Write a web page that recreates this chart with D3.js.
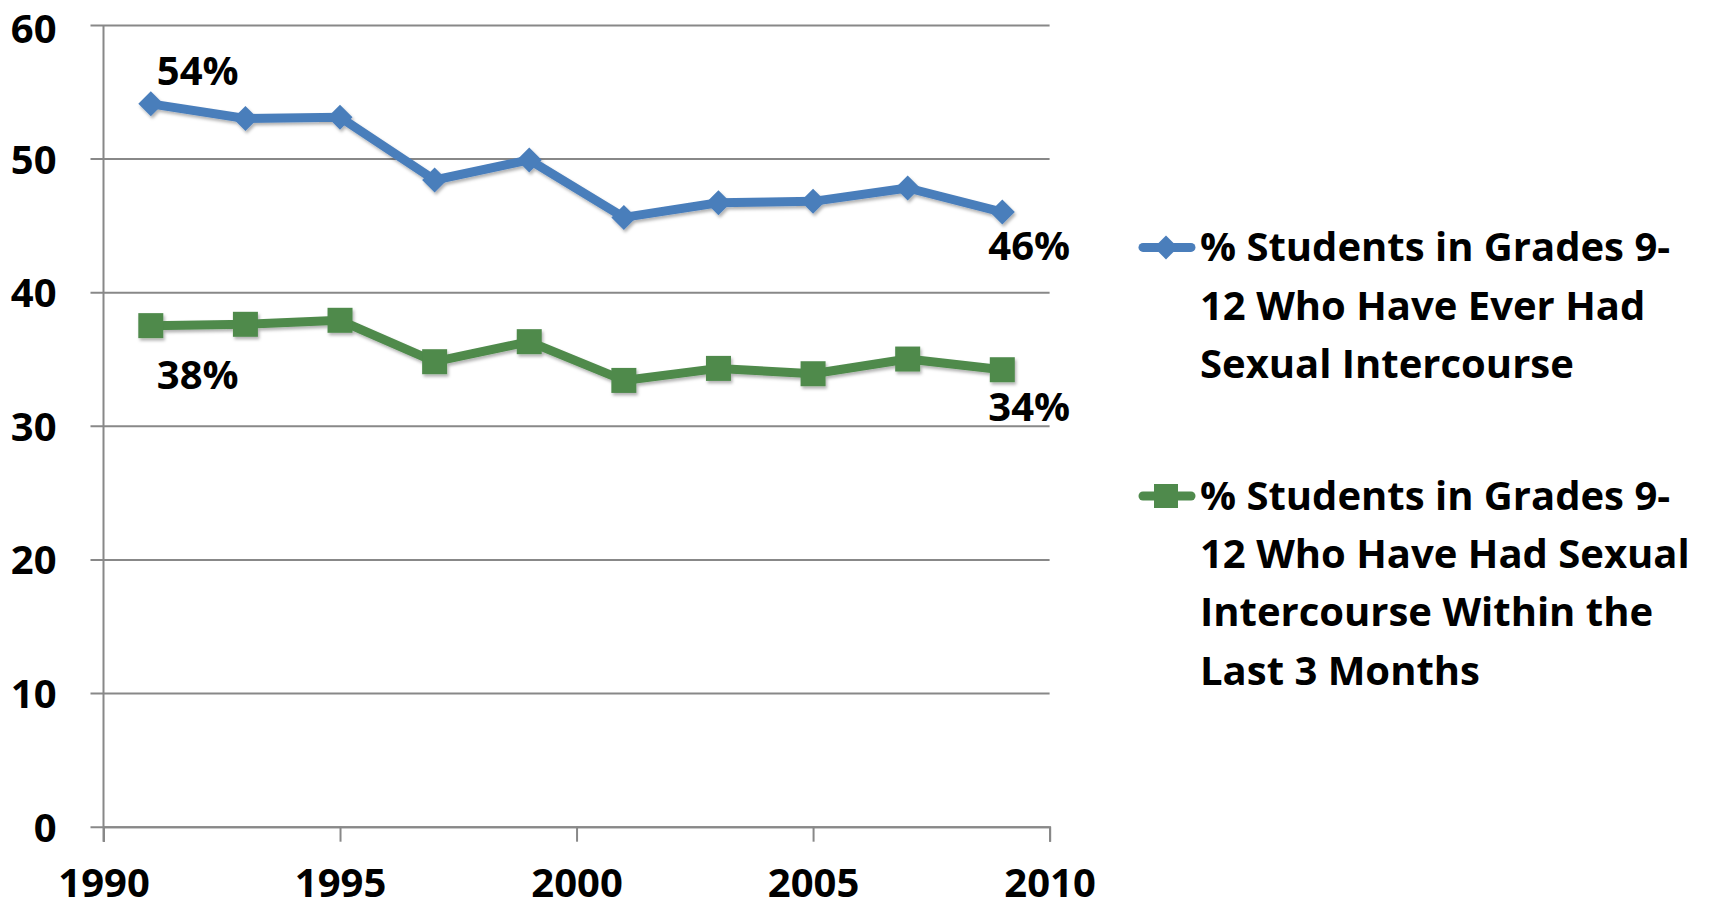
<!DOCTYPE html>
<html>
<head>
<meta charset="utf-8">
<script src="https://cdn.jsdelivr.net/npm/d3@7"></script>
<style>
  body { margin: 0; background: #fff; }
  svg text { font-family: "Open Sans", Lato, sans-serif; font-weight: bold; fill: #000; }
</style>
</head>
<body>
<div id="chart"></div>
<script>
// data
const years = [1991, 1993, 1995, 1997, 1999, 2001, 2003, 2005, 2007, 2009];
const everHad = [54.1, 53.0, 53.1, 48.4, 49.9, 45.6, 46.7, 46.8, 47.8, 46.0];
const last3Months = [37.5, 37.6, 37.9, 34.8, 36.3, 33.4, 34.3, 33.9, 35.0, 34.2];
const xTicks = [1990, 1995, 2000, 2005, 2010];
const yTicks = [0, 10, 20, 30, 40, 50, 60];
const everHadLegend = ["% Students in Grades 9-", "12 Who Have Ever Had", "Sexual Intercourse"];
const last3Legend = ["% Students in Grades 9-", "12 Who Have Had Sexual", "Intercourse Within the", "Last 3 Months"];
const everHadEnds = ["54%", "46%"];
const last3Ends = ["38%", "34%"];

const W = 1709, H = 908;
const margin = {top: 25, left: 103.5, right: W - 1049.6, bottom: H - 826.7};
const width = W - margin.left - margin.right,
      height = H - margin.top - margin.bottom;
const GRID = "#888888";
const FONT = 40;

const svg = d3.select("#chart").append("svg")
    .attr("width", W)
    .attr("height", H);

// soft shadow like the office chart
const defs = svg.append("defs");
defs.append("filter").attr("id", "shadow")
    .attr("x", "-20%").attr("y", "-20%").attr("width", "140%").attr("height", "160%")
  .append("feDropShadow")
    .attr("dx", 1.5).attr("dy", 2.5).attr("stdDeviation", 1.5)
    .attr("flood-color", "#000").attr("flood-opacity", 0.3);

const g = svg.append("g")
    .attr("transform", "translate(" + margin.left + "," + margin.top + ")");

const x = d3.scaleLinear().domain([1990, 2010]).range([0, width]);
const y = d3.scaleLinear().domain([0, 60]).range([height, 0]);

// y axis with gridlines (drawn from the right edge so ticks poke out on the left)
const axisY = g.append("g")
    .attr("transform", "translate(" + width + ",0)")
    .call(d3.axisLeft(y).tickValues(yTicks).tickSize(width + 13).tickPadding(34));
axisY.select(".domain").remove();
axisY.selectAll("line").style("stroke", GRID).style("stroke-width", 2);
axisY.selectAll("text")
    .style("font-size", FONT + "px")
    .attr("dy", d => d === 60 ? "0.44em" : "0.36em"); // keep the top label inside the page

// x axis
const axisX = g.append("g")
    .attr("transform", "translate(0," + height + ")")
    .call(d3.axisBottom(x).tickValues(xTicks).tickSize(15).tickFormat(d3.format("d")));
axisX.select(".domain").style("stroke", GRID).style("stroke-width", 2);
axisX.selectAll("line").style("stroke", GRID).style("stroke-width", 2);
axisX.selectAll("text")
    .style("font-size", FONT + "px")
    .attr("y", 70)
    .attr("dy", null);

// vertical axis line
g.append("line")
    .attr("x1", 0).attr("x2", 0)
    .attr("y1", 0).attr("y2", height + 15)
    .style("stroke", GRID).style("stroke-width", 2);

const series = [
  {values: everHad, color: "#4a7ebb", kind: "diamond", size: 25, ends: everHadEnds,
   endOffsets: [[6, -19], [-14, 48]], legend: everHadLegend},
  {values: last3Months, color: "#4f8a4c", kind: "square", size: 25, ends: last3Ends,
   endOffsets: [[6, 63], [-14, 51]], legend: last3Legend}
];

const line = d3.line()
    .x((d, i) => x(years[i]))
    .y(d => y(d));

function marker(sel, s, size) {
  const h = size / 2;
  if (s.kind === "diamond") {
    sel.append("path").attr("d", "M0," + (-h) + "L" + h + ",0L0," + h + "L" + (-h) + ",0Z")
      .attr("fill", s.color);
  } else {
    sel.append("rect").attr("x", -h).attr("y", -h).attr("width", size).attr("height", size)
      .attr("fill", s.color);
  }
}

series.forEach(s => {
  const sg = g.append("g").attr("filter", "url(#shadow)");
  sg.append("path")
      .datum(s.values)
      .attr("fill", "none")
      .attr("stroke", s.color)
      .attr("stroke-width", 9)
      .attr("stroke-linejoin", "round")
      .attr("d", line);

  sg.selectAll("g.pt")
      .data(s.values)
      .enter().append("g")
      .attr("transform", (d, i) => "translate(" + x(years[i]) + "," + y(d) + ")")
      .each(function() { marker(d3.select(this), s, s.size); });

  // end labels
  const idx = [0, s.values.length - 1];
  idx.forEach((k, j) => {
    g.append("text")
        .attr("x", x(years[k]) + s.endOffsets[j][0])
        .attr("y", y(s.values[k]) + s.endOffsets[j][1])
        .style("font-size", FONT + "px")
        .text(s.ends[j]);
  });
});

// legend
const legendTop = [247.4, 496];
series.forEach((s, k) => {
  const lg = svg.append("g").attr("transform", "translate(1166," + legendTop[k] + ")");
  lg.append("line")
      .attr("x1", -23).attr("x2", 25)
      .attr("stroke", s.color).attr("stroke-width", 9).attr("stroke-linecap", "round");
  marker(lg.append("g"), s, 24);
  s.legend.forEach((t, i) => {
    lg.append("text")
        .attr("x", 34)
        .attr("y", 14 + i * 58.2)
        .style("font-size", FONT + "px")
        .text(t);
  });
});
</script>
</body>
</html>
